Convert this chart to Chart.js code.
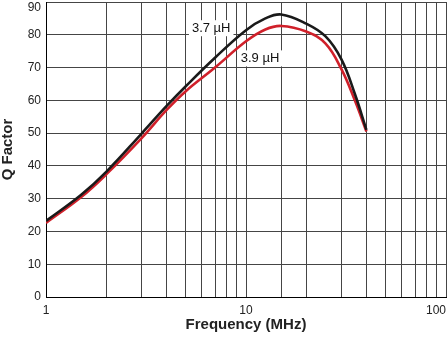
<!DOCTYPE html>
<html>
<head>
<meta charset="utf-8">
<script src="https://cdn.jsdelivr.net/npm/chart.js@4/dist/chart.umd.min.js"></script>
<style>
  html, body { margin: 0; padding: 0; background: #fff; }
  #wrap { width: 448px; height: 342px; }
</style>
</head>
<body>
<div id="wrap"><canvas id="c"></canvas></div>
<script>
// frequency in MHz, Q
const freqs = [1, 1.5, 2, 3, 4, 5, 7, 10, 12.5, 15, 20, 25, 30, 35, 40];
const q37 = [23.2, 31.2, 38.2, 49.8, 58.2, 64.3, 73, 81.4, 85, 86.2, 83.4, 79.5, 72.5, 62, 51];
const q39 = [22.6, 30.5, 37.4, 48.4, 57, 62.8, 70, 78, 81.6, 82.7, 81, 77.3, 69.5, 60, 50.5];

const seriesNames = ['3.7 µH', '3.9 µH'];
const noteFreq = [6.7, 11.75];
const noteQ = [82, 72.8];

const xLabels = [1, 10, 100];
const FONT = "'Liberation Sans', Arial, Helvetica, sans-serif";
const GRID = '#454545';

// white-backed inline labels for the two curves
const curveNotes = {
  id: 'curveNotes',
  beforeDatasetsDraw(chart) {
    const {ctx, scales} = chart;
    ctx.save();
    ctx.font = '13px ' + FONT;
    ctx.textAlign = 'center';
    ctx.textBaseline = 'middle';
    seriesNames.forEach((t, i) => {
      const x = scales.x.getPixelForValue(noteFreq[i]);
      const y = scales.y.getPixelForValue(noteQ[i]);
      const w = ctx.measureText(t).width;
      ctx.fillStyle = '#fff';
      ctx.fillRect(x - w / 2 - 3, y - 8, w + 6, 16);
      ctx.fillStyle = '#111';
      ctx.fillText(t, x, y);
    });
    ctx.restore();
  }
};

new Chart(document.getElementById('c'), {
  type: 'line',
  data: {
    datasets: [
      {
        label: seriesNames[0],
        data: freqs.map((f, i) => ({x: f, y: q37[i]})),
        borderColor: '#1a1a1a',
        borderWidth: 2.6,
        pointRadius: 0,
        tension: 0.4
      },
      {
        label: seriesNames[1],
        data: freqs.map((f, i) => ({x: f, y: q39[i]})),
        borderColor: '#d0202a',
        borderWidth: 2.6,
        pointRadius: 0,
        tension: 0.4
      }
    ]
  },
  options: {
    responsive: true,
    maintainAspectRatio: false,
    animation: false,
    layout: { padding: { top: 2, right: 2, left: 0, bottom: 0 } },
    plugins: { legend: { display: false }, tooltip: { enabled: false } },
    scales: {
      x: {
        type: 'logarithmic',
        min: 1,
        max: 100,
        grid: { color: GRID, lineWidth: 1, drawTicks: false },
        border: { color: '#000', width: 1 },
        ticks: {
          autoSkip: false,
          maxRotation: 0,
          padding: 6,
          color: '#222',
          font: { family: FONT, size: 12 },
          // trailing spaces keep "100" inside the canvas
          callback: v => xLabels.includes(v) ? (v === 100 ? '100      ' : String(v)) : ''
        },
        title: {
          display: true,
          text: 'Frequency (MHz)',
          color: '#222',
          font: { family: FONT, size: 15, weight: 'bold', lineHeight: 1 },
          padding: { top: 0, bottom: 10 }
        },
        afterFit(s) { s.height = 45; s.paddingLeft = 0; s.paddingRight = 0; }
      },
      y: {
        min: 0,
        max: 90,
        grid: { color: GRID, lineWidth: 1, drawTicks: false },
        border: { color: '#000', width: 1 },
        ticks: {
          stepSize: 10,
          padding: 5,
          color: '#222',
          font: { family: FONT, size: 12, lineHeight: 1 },
          callback: v => v === 90 ? ['', '90'] : String(v)
        },
        title: {
          display: true,
          text: 'Q Factor',
          color: '#222',
          font: { family: FONT, size: 15, weight: 'bold', lineHeight: 1 },
          padding: { top: 0, bottom: 0 }
        },
        afterFit(s) { s.width = 46; s.paddingTop = 0; s.paddingBottom = 0; }
      }
    }
  },
  plugins: [curveNotes]
});
</script>
</body>
</html>
